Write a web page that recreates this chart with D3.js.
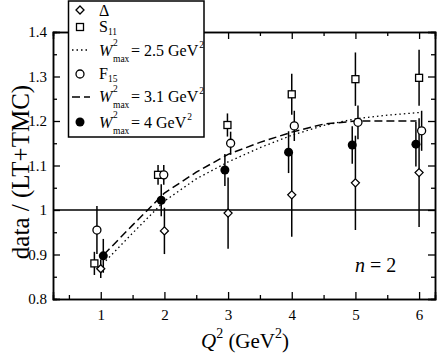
<!DOCTYPE html>
<html>
<head>
<meta charset="utf-8">
<script src="https://cdn.jsdelivr.net/npm/d3@7"></script>
<style>
  html, body { margin: 0; padding: 0; background: #fff; }
  text { font-family: "Liberation Serif", "Times New Roman", serif; fill: #000; }
</style>
</head>
<body>
<div id="chart"></div>
<script>
// ---- data ----
const deltaQ = [1.0, 2.0, 3.0, 4.0, 5.0, 6.0];
const deltaV = [0.868, 0.953, 0.993, 1.034, 1.061, 1.084];
const deltaErr = [0.021, 0.052, 0.08, 0.094, 0.106, 0.122];

const s11Q = [0.9, 1.9, 2.99, 4.0, 5.0, 6.0];
const s11V = [0.88, 1.079, 1.191, 1.26, 1.294, 1.297];
const s11Err = [0.026, 0.022, 0.026, 0.046, 0.06, 0.063];

const f15Q = [0.94, 1.99, 3.04, 4.04, 5.04, 6.04];
const f15V = [0.955, 1.079, 1.15, 1.189, 1.197, 1.178];
const f15Err = [0.054, 0.022, 0.026, 0.034, 0.038, 0.045];

const w4Q = [1.04, 1.95, 2.95, 3.95, 4.95, 5.95];
const w4V = [0.897, 1.022, 1.09, 1.13, 1.146, 1.148];
const w4Err = [0.038, 0.036, 0.036, 0.047, 0.042, 0.05];

// curves W2max = 2.5 (dotted) and 3.1 (dashed)
const dottedQ = [1.08, 1.5, 2, 2.5, 3, 3.5, 4, 4.5, 5, 5.5, 6.0];
const dottedV = [0.886, 0.948, 1.02, 1.07, 1.108, 1.14, 1.168, 1.19, 1.205, 1.213, 1.219];
const dashedQ = [1.05, 1.5, 2, 2.5, 3, 3.5, 4, 4.5, 5, 5.5, 5.96];
const dashedV = [0.9, 0.966, 1.038, 1.085, 1.125, 1.152, 1.175, 1.193, 1.2, 1.2, 1.2];

const xMajor = [1, 2, 3, 4, 5, 6];
const xMinor = [0.5, 1.5, 2.5, 3.5, 4.5, 5.5];
const yMajor = [0.8, 0.9, 1.0, 1.1, 1.2, 1.3, 1.4];
const yMinor = [0.85, 0.95, 1.05, 1.15, 1.25, 1.35];

// ---- layout ----
const W = 437, H = 354;
const mLeft = 53, mRight = 435, mTop = 32, mBottom = 299;

const svg = d3.select("#chart").append("svg").attr("width", W).attr("height", H);

const x = d3.scaleLinear().domain([0.25, 6.25]).range([mLeft, mRight]);
const y = d3.scaleLinear().domain([0.8, 1.4]).range([mBottom, mTop]);

// reference line at 1
svg.append("line")
  .attr("x1", mLeft).attr("x2", mRight)
  .attr("y1", y(1)).attr("y2", y(1))
  .attr("stroke", "#000").attr("stroke-width", 1.3);

// curves
const line = d3.line().x(d => x(d[0])).y(d => y(d[1]));
svg.append("path")
  .attr("d", line(d3.zip(dottedQ, dottedV)))
  .attr("fill", "none").attr("stroke", "#000").attr("stroke-width", 1.3)
  .attr("stroke-dasharray", "1.5,3");
svg.append("path")
  .attr("d", line(d3.zip(dashedQ, dashedV)))
  .attr("fill", "none").attr("stroke", "#000").attr("stroke-width", 1.5)
  .attr("stroke-dasharray", "8,4");

// error bars
function errBars(qs, vs, es) {
  svg.append("g").selectAll("line").data(d3.range(qs.length)).enter().append("line")
    .attr("x1", i => x(qs[i])).attr("x2", i => x(qs[i]))
    .attr("y1", i => y(vs[i] - es[i])).attr("y2", i => y(vs[i] + es[i]))
    .attr("stroke", "#000").attr("stroke-width", 1.5);
}
errBars(deltaQ, deltaV, deltaErr);
errBars(s11Q, s11V, s11Err);
errBars(f15Q, f15V, f15Err);
errBars(w4Q, w4V, w4Err);

// symbols
function symbol(g, kind, cx, cy) {
  if (kind === "diamond") {
    g.append("path")
      .attr("d", `M${cx},${cy - 4}L${cx + 4},${cy}L${cx},${cy + 4}L${cx - 4},${cy}Z`)
      .attr("fill", "#fff").attr("stroke", "#000").attr("stroke-width", 1.3);
  } else if (kind === "square") {
    g.append("rect").attr("x", cx - 3.5).attr("y", cy - 3.5).attr("width", 7).attr("height", 7)
      .attr("fill", "#fff").attr("stroke", "#000").attr("stroke-width", 1.3);
  } else if (kind === "circle") {
    g.append("circle").attr("cx", cx).attr("cy", cy).attr("r", 4)
      .attr("fill", "#fff").attr("stroke", "#000").attr("stroke-width", 1.3);
  } else {
    g.append("circle").attr("cx", cx).attr("cy", cy).attr("r", 4.5).attr("fill", "#000");
  }
}
function points(qs, vs, kind) {
  const g = svg.append("g");
  qs.forEach((q, i) => symbol(g, kind, x(q), y(vs[i])));
}
points(deltaQ, deltaV, "diamond");
points(s11Q, s11V, "square");
points(f15Q, f15V, "circle");
points(w4Q, w4V, "filled");

// axes, ticks pointing inward on all four sides
const fmt = d => d === 1 ? "1" : d3.format(".1f")(d);
svg.append("g").attr("transform", `translate(0,${mBottom})`)
  .call(d3.axisBottom(x).tickValues(xMajor).tickSize(-7).tickPadding(10).tickFormat(d3.format("d")));
svg.append("g").attr("transform", `translate(0,${mBottom})`)
  .call(d3.axisBottom(x).tickValues(xMinor).tickSize(-4).tickFormat(""));
svg.append("g").attr("transform", `translate(0,${mTop})`)
  .call(d3.axisTop(x).tickValues(xMajor).tickSize(-7).tickFormat(""));
svg.append("g").attr("transform", `translate(0,${mTop})`)
  .call(d3.axisTop(x).tickValues(xMinor).tickSize(-4).tickFormat(""));
svg.append("g").attr("transform", `translate(${mLeft},0)`)
  .call(d3.axisLeft(y).tickValues(yMajor).tickSize(-7).tickPadding(6).tickFormat(fmt));
svg.append("g").attr("transform", `translate(${mLeft},0)`)
  .call(d3.axisLeft(y).tickValues(yMinor).tickSize(-4).tickFormat(""));
svg.append("g").attr("transform", `translate(${mRight},0)`)
  .call(d3.axisRight(y).tickValues(yMajor).tickSize(-7).tickFormat(""));
svg.append("g").attr("transform", `translate(${mRight},0)`)
  .call(d3.axisRight(y).tickValues(yMinor).tickSize(-4).tickFormat(""));

svg.selectAll(".domain").attr("stroke-width", 1.5);
svg.selectAll(".tick line").attr("stroke-width", 1.3);
svg.selectAll("g").attr("font-family", "Liberation Serif");
svg.selectAll(".tick text").attr("font-size", 15).attr("fill", "#000");

// axis titles
svg.append("text")
  .attr("transform", `translate(29,172) rotate(-90)`)
  .attr("text-anchor", "middle").attr("font-size", 25)
  .text("data / (LT+TMC)");

const xt = svg.append("text").attr("x", 245).attr("y", 348).attr("text-anchor", "middle").attr("font-size", 21);
xt.append("tspan").attr("font-style", "italic").text("Q");
xt.append("tspan").attr("font-size", 14).attr("dy", -10).text("2");
xt.append("tspan").attr("dy", 10).text(" (GeV");
xt.append("tspan").attr("font-size", 14).attr("dy", -10).text("2");
xt.append("tspan").attr("dy", 10).text(")");

const nt = svg.append("text").attr("x", 355).attr("y", 272).attr("font-size", 20);
nt.append("tspan").attr("font-style", "italic").text("n");
nt.append("tspan").text(" = 2");

// ---- legend ----
const lg = svg.append("g");
lg.append("rect").attr("x", 68.5).attr("y", 1).attr("width", 135.5).attr("height", 136)
  .attr("fill", "#fff").attr("stroke", "#000").attr("stroke-width", 1.5);

const lx = 80, tx = 99, fs = 16, small = 9.5;
symbol(lg, "diamond", lx, 10);
symbol(lg, "square", lx, 27);
lg.append("line").attr("x1", 72).attr("x2", 89).attr("y1", 50).attr("y2", 50)
  .attr("stroke", "#000").attr("stroke-width", 1.3).attr("stroke-dasharray", "1.5,3");
symbol(lg, "circle", lx, 74);
lg.append("line").attr("x1", 72).attr("x2", 90).attr("y1", 97).attr("y2", 97)
  .attr("stroke", "#000").attr("stroke-width", 1.5).attr("stroke-dasharray", "8,4");
symbol(lg, "filled", lx, 122);

lg.append("text").attr("x", tx).attr("y", 16).attr("font-size", fs).text("Δ");

function subLabel(main, sub, yb) {
  const t = lg.append("text").attr("x", tx).attr("y", yb).attr("font-size", fs);
  t.append("tspan").text(main);
  t.append("tspan").attr("font-size", small).attr("dy", 3).text(sub);
}
subLabel("S", "11", 32);
subLabel("F", "15", 79);

function wLabel(val, yb) {
  lg.append("text").attr("x", tx).attr("y", yb).attr("font-size", fs)
    .attr("font-style", "italic").text("W");
  lg.append("text").attr("x", tx + 14).attr("y", yb - 10).attr("font-size", small).text("2");
  lg.append("text").attr("x", tx + 14).attr("y", yb + 6).attr("font-size", small).text("max");
  const t = lg.append("text").attr("x", tx + 32).attr("y", yb).attr("font-size", fs)
    .text(`= ${val} GeV`);
  const w = t.node().getComputedTextLength();
  lg.append("text").attr("x", tx + 33 + w).attr("y", yb - 8).attr("font-size", small).text("2");
}
wLabel("2.5", 56);
wLabel("3.1", 102);
wLabel("4", 128);
</script>
</body>
</html>
